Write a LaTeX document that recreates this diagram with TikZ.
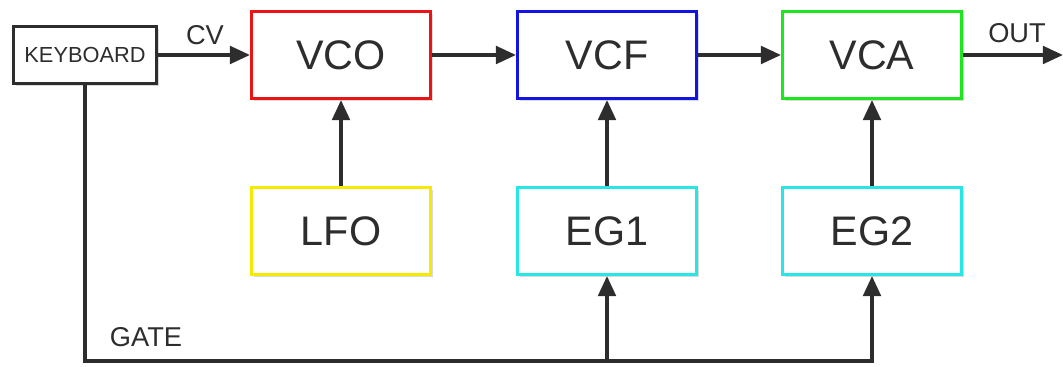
\documentclass[tikz,border=0pt]{standalone}
\usepackage{fontspec}
\setmainfont{Liberation Sans}
\usetikzlibrary{arrows.meta,shadows}

\begin{document}
\begin{tikzpicture}[x=0.02cm,y=-0.02cm,
    blk/.style={draw, line width=1.7pt, fill=white, minimum width=3.58cm, minimum height=1.74cm,
        text=txtgray, font=\fontsize{23.5}{26}\selectfont,
        drop shadow={shadow xshift=1.3pt,shadow yshift=-1.3pt,opacity=0.3}},
    conn/.style={line width=2.1pt, draw=txtgray, -{Triangle[length=11.5pt,width=10pt]}},
    lbl/.style={text=txtgray, font=\fontsize{15.5}{18}\selectfont}]
    \definecolor{txtgray}{RGB}{45,45,45}
    \definecolor{vcored}{RGB}{235,20,20}
    \definecolor{vcfblue}{RGB}{20,20,225}
    \definecolor{vcagreen}{RGB}{30,230,30}
    \definecolor{lfoyellow}{RGB}{245,235,0}
    \definecolor{egcyan}{RGB}{40,230,230}
    \useasboundingbox (0,0) rectangle (1063,367);
    %boxes
    \node[blk, draw=txtgray, minimum width=2.86cm, minimum height=1.14cm,
        font=\fontsize{12.4}{14}\selectfont] (kbd) at (85,55) {KEYBOARD};
    \node[blk, draw=vcored] (vco) at (341,55) {VCO};
    \node[blk, draw=vcfblue] (vcf) at (607,55) {VCF};
    \node[blk, draw=vcagreen] (vca) at (872,55) {VCA};
    \node[blk, draw=lfoyellow] (lfo) at (341,231) {LFO};
    \node[blk, draw=egcyan] (eg1) at (607,231) {EG1};
    \node[blk, draw=egcyan] (eg2) at (872,231) {EG2};
    \coordinate (out) at (1063,55);
    \coordinate (gbus) at (0,361);
    %lines
    \draw[conn] (kbd) -- (vco);
    \draw[conn] (vco) -- (vcf);
    \draw[conn] (vcf) -- (vca);
    \draw[conn] (vca) -- (out);
    \draw[conn] (lfo) -- (vco);
    \draw[conn] (eg1) -- (vcf);
    \draw[conn] (eg2) -- (vca);
    \draw[conn] (kbd.south) |- (gbus -| eg2.south) -- (eg2.south);
    \draw[conn] (gbus -| eg1.south) -- (eg1.south);
    %labels
    \node[lbl] (cv) at (205,35) {CV};
    \node[lbl] (outlbl) at (1017,33) {OUT};
    \node[lbl] (gate) at (146,337) {GATE};
\end{tikzpicture}
\end{document}
